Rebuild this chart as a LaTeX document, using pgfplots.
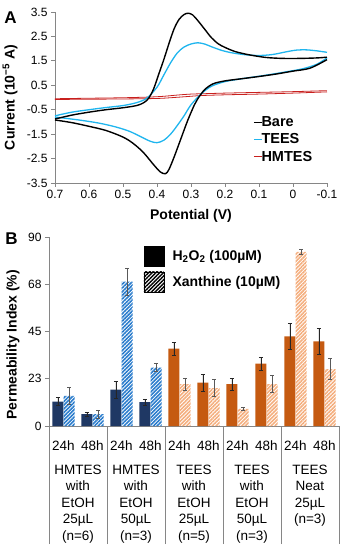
\documentclass[border=0pt]{standalone}
\usepackage{pgfplots}
\pgfplotsset{compat=1.18}
\usepackage{fontspec}
\setmainfont{Liberation Sans}
\usetikzlibrary{patterns.meta}
\definecolor{navy}{HTML}{1F3864}
\definecolor{hblue}{HTML}{2A7CCC}
\definecolor{orng}{HTML}{C55A11}
\definecolor{lorng}{HTML}{F4AE7E}
\definecolor{tees}{HTML}{1FB5EE}
\definecolor{hm}{HTML}{C8201E}
\definecolor{axgray}{HTML}{868686}
\newcommand\tickfont{\fontsize{12}{14}\selectfont}
\newcommand\grpfont{\fontsize{13.5}{16.5}\selectfont}
\newcommand\labfont{\fontsize{14}{16}\selectfont\bfseries}

\pgfplotstableread{
x y e
-0.345 11.6 2.0
0.155 5.7 1.0
0.655 17.3 4.0
1.155 11.4 1.5
}\hmsolid
\pgfplotstableread{
x y e
-0.155 14.3 4.0
0.345 5.6 2.0
0.845 68.7 6.5
1.345 27.8 2.0
}\hmhatch
\pgfplotstableread{
x y e
1.655 36.8 3.0
2.155 20.6 4.0
2.655 20.0 2.8
3.155 29.7 3.0
3.655 42.7 6.0
4.155 40.3 6.3
}\tesolid
\pgfplotstableread{
x y e
1.845 19.9 3.0
2.345 18.0 4.0
2.845 8.1 0.7
3.345 20.0 4.0
3.845 82.9 1.2
4.345 27.1 5.0
}\tehatch

\begin{document}
\begin{tikzpicture}
\path[use as bounding box] (0pt,0pt) rectangle (343pt,550pt);
% ---------------- Panel A
\begin{axis}[
  at={(55pt,367pt)}, anchor=south west,
  scale only axis, width=272pt, height=171pt,
  xmin=-0.1, xmax=0.7, x dir=reverse,
  ymin=-3.5, ymax=3.5,
  axis x line*=bottom, axis y line*=left,
  axis line style={draw=axgray, line width=0.8pt, -},
  tick style={draw=axgray, line width=0.8pt},
  tick align=outside, major tick length=4pt,
  xtick={-0.1,0,0.1,0.2,0.3,0.4,0.5,0.6,0.7},
  xticklabels={-0.1,0,0.1,0.2,0.3,0.4,0.5,0.6,0.7},
  ytick={-3.5,-2.5,-1.5,-0.5,0.5,1.5,2.5,3.5},
  yticklabels={-3.5,-2.5,-1.5,-0.5,0.5,1.5,2.5,3.5},
  ticklabel style={font=\tickfont},
  xlabel={Potential (V)},
  ylabel={Current (10\textsuperscript{−5} A)},
  every axis x label/.style={at={(axis description cs:0.5,-0.193)}, anchor=center, font=\labfont},
  every axis y label/.style={at={(axis description cs:-0.165,0.5)}, anchor=center, rotate=90, font=\labfont},
  legend style={at={(axis description cs:0.728,0.40)}, anchor=north west, draw=none, fill=none,
    font=\fontsize{14.5}{16}\selectfont\bfseries, row sep=1.5pt, inner sep=0pt},
  legend cell align=left,
  legend image code/.code={\draw[#1] (0pt,0pt) -- (8pt,0pt);},
  clip=false,
]
\addlegendimage{black, line width=1.3pt}
\addlegendentry{\hspace{-3pt}Bare}
\addlegendimage{tees, line width=1.3pt}
\addlegendentry{\hspace{-3pt}TEES}
\addlegendimage{hm, line width=1.3pt}
\addlegendentry{\hspace{-3pt}HMTES}
% HMTES
\addplot[hm, line width=0.8pt, smooth, forget plot] coordinates {
(0.70,-0.05) (0.60,-0.03) (0.50,-0.01) (0.42,0.02) (0.38,0.05) (0.34,0.10) (0.30,0.14) (0.25,0.16) (0.20,0.18) (0.10,0.21) (0.00,0.24) (-0.10,0.28)};
\addplot[hm, line width=0.8pt, smooth, forget plot] coordinates {
(-0.10,0.23) (0.00,0.18) (0.10,0.14) (0.20,0.11) (0.27,0.08) (0.31,0.04) (0.35,0.00) (0.40,-0.04) (0.50,-0.06) (0.60,-0.07) (0.70,-0.08)};
% TEES
\addplot[tees, line width=1.3pt, smooth, forget plot] coordinates {
(0.70,-0.75) (0.65,-0.60) (0.60,-0.50) (0.55,-0.41) (0.50,-0.33) (0.46,-0.21) (0.43,-0.03) (0.40,0.42) (0.38,0.92) (0.36,1.42) (0.34,1.83) (0.32,2.07) (0.30,2.19) (0.28,2.24) (0.26,2.19) (0.24,2.08) (0.21,1.93) (0.18,1.83) (0.14,1.75) (0.10,1.72) (0.06,1.76) (0.02,1.87) (-0.01,1.94) (-0.04,1.95) (-0.07,1.91) (-0.10,1.85)};
\addplot[tees, line width=1.3pt, smooth, forget plot] coordinates {
(-0.10,1.62) (-0.07,1.36) (-0.03,1.18) (0.00,1.10) (0.05,0.98) (0.10,0.87) (0.15,0.77) (0.20,0.65) (0.24,0.46) (0.27,0.15) (0.30,-0.30) (0.32,-0.74) (0.34,-1.14) (0.36,-1.50) (0.38,-1.75) (0.40,-1.85) (0.42,-1.79) (0.45,-1.59) (0.48,-1.39) (0.52,-1.21) (0.57,-1.05) (0.63,-0.92) (0.70,-0.80)};
% Bare
\addplot[black, line width=1.4pt, smooth, forget plot] coordinates {
(0.70,-0.88) (0.65,-0.72) (0.60,-0.60) (0.55,-0.50) (0.50,-0.42) (0.46,-0.33) (0.44,-0.22) (0.425,-0.04) (0.41,0.35) (0.395,0.95) (0.38,1.55) (0.365,2.20) (0.35,2.80) (0.335,3.20) (0.32,3.40) (0.308,3.45) (0.295,3.38) (0.28,3.15) (0.26,2.80) (0.24,2.45) (0.22,2.20) (0.20,2.05) (0.17,1.88) (0.13,1.75) (0.08,1.64) (0.03,1.60) (-0.02,1.60) (-0.07,1.62) (-0.10,1.65)};
\addplot[black, line width=1.4pt, smooth, forget plot] coordinates {
(-0.10,1.55) (-0.05,1.20) (0.00,1.08) (0.05,0.96) (0.10,0.86) (0.15,0.77) (0.20,0.68) (0.235,0.56) (0.26,0.32) (0.28,-0.05) (0.29,-0.30) (0.31,-0.95) (0.33,-1.70) (0.35,-2.45) (0.365,-2.95) (0.375,-3.12) (0.39,-3.05) (0.41,-2.75) (0.44,-2.25) (0.47,-1.88) (0.50,-1.62) (0.55,-1.35) (0.60,-1.18) (0.65,-1.03) (0.70,-0.92)};
\end{axis}
\node[font=\fontsize{17}{18}\selectfont\bfseries] at (10.5pt,532pt) {A};
% ---------------- Panel B
\begin{axis}[
  at={(49pt,124pt)}, anchor=south west,
  scale only axis, width=290pt, height=189pt,
  xmin=-0.5, xmax=4.5, ymin=0, ymax=90,
  axis x line*=bottom, axis y line*=left,
  axis line style={draw=axgray, line width=0.8pt, -},
  tick style={draw=axgray, line width=0.8pt},
  tick align=outside, major tick length=4pt,
  ytick={0,22.5,45,67.5,90}, yticklabels={0,23,45,68,90},
  yticklabel style={font=\tickfont},
  xtick={-0.25,0.25,0.75,1.25,1.75,2.25,2.75,3.25,3.75,4.25},
  xticklabels={24h,48h,24h,48h,24h,48h,24h,48h,24h,48h},
  xticklabel style={font=\grpfont, anchor=north, inner sep=0pt, yshift=-11pt},
  xtick style={draw=none},
  extra x ticks={-0.5,0.5,1.5,2.5,3.5,4.5},
  extra x tick labels={},
  extra x tick style={major tick length=118pt, xtick style={draw=axgray, line width=0.8pt}},
  ylabel={Permeability Index (\%)},
  every axis y label/.style={at={(axis description cs:-0.124,0.43)}, anchor=center, rotate=90, font=\labfont},
  legend style={at={(axis description cs:0.324,0.955)}, anchor=north west, draw=none, fill=none,
    font=\labfont, row sep=5pt, inner sep=0pt,
    /tikz/every odd column/.append style={column sep=6pt}},
  legend cell align=left,
  clip=false,
]
\addlegendimage{legend image code/.code={\fill[black] (0pt,-10pt) rectangle (20pt,10pt);}}
\addlegendentry{H\textsubscript{2}O\textsubscript{2} (100µM)}
\addlegendimage{legend image code/.code={\fill[pattern={Lines[angle=45,distance=2.6pt,line width=1.4pt]}, pattern color=black] (0pt,-10pt) rectangle (20pt,10pt);}}
\addlegendentry{Xanthine (10µM)}
\addplot[ybar, bar width=11pt, bar shift=0pt, fill=navy, draw=none, forget plot,
  error bars/.cd, y dir=both, y explicit,
  error bar style={line width=0.7pt, black!85},
  error mark options={rotate=90, mark size=2pt, line width=0.7pt, black!85}]
  table[x=x, y=y, y error=e] {\hmsolid};
\addplot[ybar, bar width=11pt, bar shift=0pt, draw=none, forget plot,
  pattern={Lines[angle=45,distance=2.6pt,line width=1.6pt]}, pattern color=hblue,
  error bars/.cd, y dir=both, y explicit,
  error bar style={line width=0.7pt, black!65},
  error mark options={rotate=90, mark size=2pt, line width=0.7pt, black!65}]
  table[x=x, y=y, y error=e] {\hmhatch};
\addplot[ybar, bar width=11pt, bar shift=0pt, fill=orng, draw=none, forget plot,
  error bars/.cd, y dir=both, y explicit,
  error bar style={line width=0.7pt, black!85},
  error mark options={rotate=90, mark size=2pt, line width=0.7pt, black!85}]
  table[x=x, y=y, y error=e] {\tesolid};
\addplot[ybar, bar width=11pt, bar shift=0pt, draw=none, forget plot,
  pattern={Lines[angle=45,distance=2.6pt,line width=1.6pt]}, pattern color=lorng,
  error bars/.cd, y dir=both, y explicit,
  error bar style={line width=0.7pt, black!65},
  error mark options={rotate=90, mark size=2pt, line width=0.7pt, black!65}]
  table[x=x, y=y, y error=e] {\tehatch};
\node[font=\grpfont, align=center, anchor=north, inner sep=0pt] at (axis cs:0,0) [yshift=-38.4pt] {HMTES\\with\\EtOH\\25µL\\(n=6)};
\node[font=\grpfont, align=center, anchor=north, inner sep=0pt] at (axis cs:1,0) [yshift=-38.4pt] {HMTES\\with\\EtOH\\50µL\\(n=3)};
\node[font=\grpfont, align=center, anchor=north, inner sep=0pt] at (axis cs:2,0) [yshift=-38.4pt] {TEES\\with\\EtOH\\25µL\\(n=5)};
\node[font=\grpfont, align=center, anchor=north, inner sep=0pt] at (axis cs:3,0) [yshift=-38.4pt] {TEES\\with\\EtOH\\50µL\\(n=3)};
\node[font=\grpfont, align=center, anchor=north, inner sep=0pt] at (axis cs:4,0) [yshift=-38.4pt] {TEES\\Neat\\25µL\\(n=3)};
\end{axis}
\node[font=\fontsize{17}{18}\selectfont\bfseries] at (11.5pt,311pt) {B};
\end{tikzpicture}
\end{document}
